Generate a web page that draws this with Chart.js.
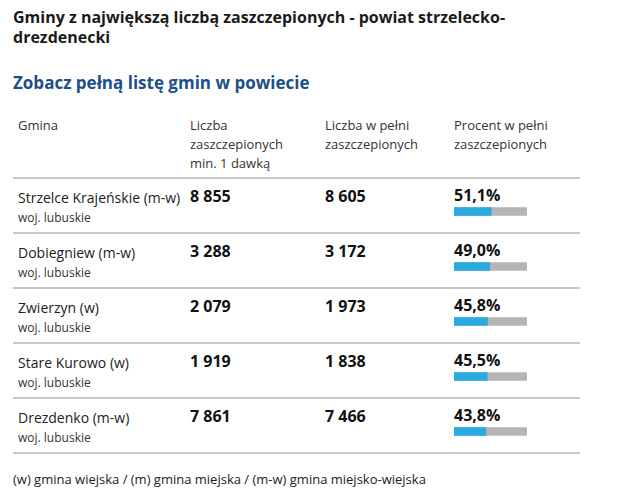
<!DOCTYPE html>
<html>
<head>
<meta charset="utf-8">
<script src="https://cdn.jsdelivr.net/npm/chart.js@4"></script>
<style>
  html, body { margin: 0; padding: 0; background: #fff; }
  body { width: 627px; height: 495px; position: relative; overflow: hidden; font-family: "Open Sans", sans-serif; color: #222; }
  .abs { position: absolute; white-space: nowrap; }
  #title { left: 13px; top: 7px; font-size: 16px; font-weight: 700; line-height: 20px; color: #1b1b1b; white-space: normal; width: 520px; }
  #link { left: 13px; top: 72px; font-size: 17px; font-weight: 700; line-height: 22px; color: #1d4f8c; }
  .hdr { font-size: 13px; line-height: 19px; color: #333; top: 116px; }
  .rule { position: absolute; left: 13px; width: 567px; height: 0; border-top: 2px solid #c8c8c8; }
  .name { font-size: 14px; line-height: 20px; color: #222; }
  .woj { font-size: 12px; line-height: 16px; color: #333; }
  .num { font-size: 16px; font-weight: 700; line-height: 20px; color: #111; }
  #foot { left: 13px; top: 470px; font-size: 13px; line-height: 19px; color: #222; }
  #barWrap { position: absolute; left: 454px; top: 184px; width: 73px; height: 275px; }
</style>
</head>
<body>
<div id="title" class="abs">Gminy z największą liczbą zaszczepionych - powiat strzelecko-drezdenecki</div>
<div id="link" class="abs">Zobacz pełną listę gmin w powiecie</div>
<div id="headers"></div>
<div id="rows"></div>
<div id="foot" class="abs">(w) gmina wiejska / (m) gmina miejska / (m-w) gmina miejsko-wiejska</div>
<div id="barWrap"><canvas id="bars"></canvas></div>

<script>
const headers = ["Gmina", "Liczba<br>zaszczepionych<br>min. 1 dawką", "Liczba w pełni<br>zaszczepionych", "Procent w pełni<br>zaszczepionych"];
const gminy = ["Strzelce Krajeńskie (m-w)", "Dobiegniew (m-w)", "Zwierzyn (w)", "Stare Kurowo (w)", "Drezdenko (m-w)"];
const wojewodztwa = ["woj. lubuskie", "woj. lubuskie", "woj. lubuskie", "woj. lubuskie", "woj. lubuskie"];
const dawka1 = [8855, 3288, 2079, 1919, 7861];
const pelne = [8605, 3172, 1973, 1838, 7466];
const procent = [51.1, 49.0, 45.8, 45.5, 43.8];
const pelnaSkala = [100, 100, 100, 100, 100];

const colX = [18, 190, 325, 454];
const fmtInt = v => String(v).replace(/\B(?=(\d{3})+(?!\d))/g, " ");
const fmtPct = v => v.toFixed(1).replace(".", ",") + "%";

const hd = document.getElementById("headers");
headers.forEach((h, i) => {
  const d = document.createElement("div");
  d.className = "abs hdr";
  d.style.left = colX[i] + "px";
  d.innerHTML = h;
  hd.appendChild(d);
});

const rows = document.getElementById("rows");
function add(cls, left, top, text) {
  const d = document.createElement("div");
  d.className = "abs " + cls;
  d.style.left = left + "px";
  d.style.top = top + "px";
  d.textContent = text;
  rows.appendChild(d);
}
const ROW0 = 177, ROWH = 55;
for (let k = 0; k <= gminy.length; k++) {
  const r = document.createElement("div");
  r.className = "rule";
  r.style.top = (ROW0 + k * ROWH) + "px";
  rows.appendChild(r);
}
gminy.forEach((g, i) => {
  const y = ROW0 + i * ROWH;
  add("name", colX[0], y + 11, g);
  add("woj", colX[0], y + 33, wojewodztwa[i]);
  add("num", colX[1], y + 9, fmtInt(dawka1[i]));
  add("num", colX[2], y + 9, fmtInt(pelne[i]));
  add("num", colX[3], y + 8, fmtPct(procent[i]));
});

new Chart(document.getElementById("bars"), {
  type: "bar",
  data: {
    labels: gminy,
    datasets: [
      { data: procent, backgroundColor: "#29abe2", barThickness: 8, grouped: false, order: 0 },
      { data: pelnaSkala, backgroundColor: "#b5b5b5", barThickness: 8, grouped: false, order: 1 }
    ]
  },
  options: {
    indexAxis: "y",
    responsive: true,
    maintainAspectRatio: false,
    animation: false,
    layout: { padding: 0 },
    plugins: { legend: { display: false }, tooltip: { enabled: false } },
    scales: {
      x: { display: false, min: 0, max: 100 },
      y: { display: false }
    }
  }
});
</script>
</body>
</html>
